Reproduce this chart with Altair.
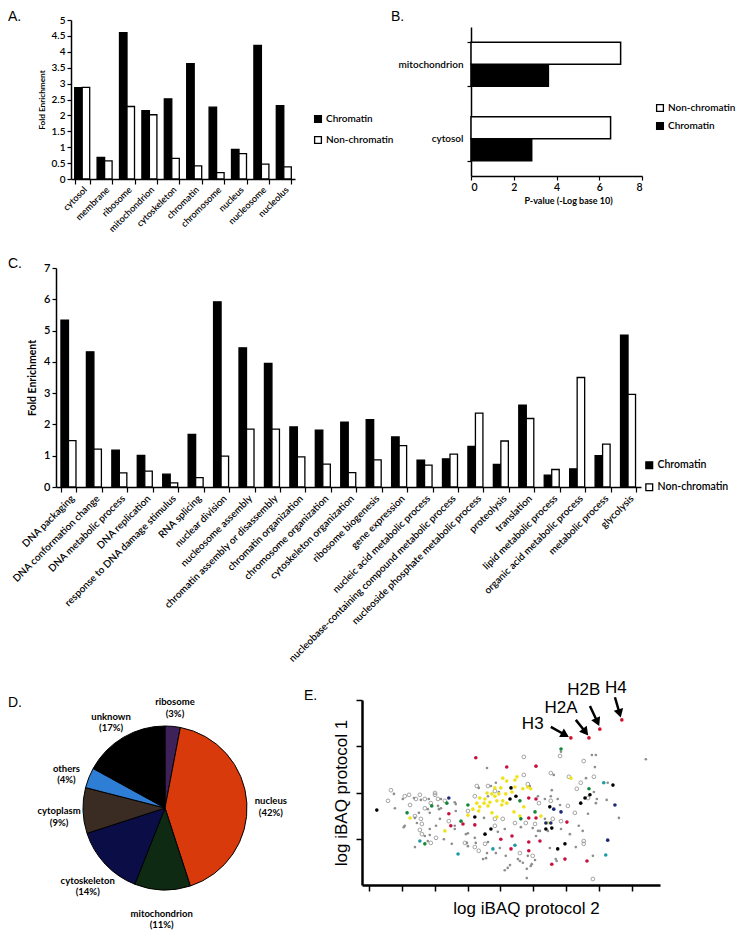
import math
import altair as alt
import pandas as pd

FONT = "Lato"
ARIAL = "Liberation Sans"
SERIES = ["Chromatin", "Non-chromatin"]

# ---------------- Panel A : cellular component fold enrichment ----------------
a_categories = ["cytosol", "membrane", "ribosome", "mitochondrion", "cytoskeleton",
                "chromatin", "chromosome", "nucleus", "nucleosome", "nucleolus"]
a_chromatin = [2.87, 0.68, 4.60, 2.15, 2.52, 3.63, 2.26, 0.93, 4.20, 2.31]
a_non_chromatin = [2.88, 0.57, 2.28, 2.02, 0.65, 0.41, 0.20, 0.80, 0.47, 0.38]
a_y_ticks = [0, 0.5, 1, 1.5, 2, 2.5, 3, 3.5, 4, 4.5, 5]

# ---------------- Panel B : p-values ----------------
b_categories = ["mitochondrion", "cytosol"]
b_chromatin = [3.62, 2.84]
b_non_chromatin = [7.00, 6.53]
b_x_ticks = [0, 2, 4, 6, 8]

# ---------------- Panel C : biological process fold enrichment ----------------
c_categories = ["DNA packaging", "DNA conformation change", "DNA metabolic process",
                "DNA replication", "response to DNA damage stimulus", "RNA splicing",
                "nuclear division", "nucleosome assembly", "chromatin assembly or disassembly",
                "chromatin organization", "chromosome organization", "cytoskeleton organization",
                "ribosome biogenesis", "gene expression", "nucleic acid metabolic process",
                "nucleobase-containing compound metabolic process",
                "nucleoside phosphate metabolic process", "proteolysis", "translation",
                "lipid metabolic process", "organic acid metabolic process",
                "metabolic process", "glycolysis"]
c_chromatin = [5.33, 4.32, 1.18, 1.01, 0.41, 1.68, 5.92, 4.45, 3.95, 1.92, 1.82, 2.07,
               2.15, 1.60, 0.86, 0.90, 1.30, 0.72, 2.62, 0.38, 0.58, 1.00, 4.85]
c_non_chromatin = [1.48, 1.21, 0.45, 0.51, 0.13, 0.30, 0.99, 1.85, 1.85, 0.96, 0.73, 0.46,
                   0.87, 1.32, 0.70, 1.05, 2.36, 1.47, 2.19, 0.56, 3.50, 1.37, 2.96]
c_y_ticks = [0, 1, 2, 3, 4, 5, 6, 7]

# ---------------- Panel D : pie ----------------
d_categories = ["ribosome", "nucleus", "mitochondrion", "cytoskeleton", "cytoplasm",
                "others", "unknown"]
d_percent = [3, 42, 11, 14, 9, 4, 17]

# ---------------- Panel E : scatter ----------------
e_x_ticks = [0, 1, 2, 3, 4, 5, 6, 7, 8]
e_y_ticks = [1, 2, 3, 4]
e_gray_open = [(4.71, 2.77), (5.53, 2.42), (5.81, 2.79), (6.53, 2.68), (6.84, 2.34), (6.08, 2.34),
               (6.32, 2.08), (6.05, 1.71), (6.26, 1.56), (5.84, 1.38), (6.53, 0.95), (6.53, 0.89),
               (6.81, 0.13), (4.59, 0.69), (3.22, 0.82), (3.34, 0.74), (2.04, 1.02), (1.61, 1.10),
               (1.55, 1.19), (1.61, 1.32), (1.58, 1.43), (1.70, 1.86), (1.55, 1.95), (1.43, 1.86),
               (1.22, 1.95), (0.58, 1.82), (1.25, 1.73), (2.10, 1.86), (2.01, 1.95), (2.43, 1.38),
               (2.92, 0.91), (3.83, 1.43), (3.83, 1.28), (3.62, 2.14), (3.22, 1.92), (3.01, 1.60),
               (4.07, 1.43), (4.44, 1.34), (4.77, 1.34), (5.05, 1.32), (5.59, 1.43), (5.17, 1.77),
               (5.53, 1.82), (6.44, 2.21), (6.66, 1.88), (0.67, 2.05), (1.09, 1.92), (2.01, 1.99),
               (1.88, 1.77), (2.31, 1.82), (3.28, 2.14), (3.83, 2.03), (4.71, 2.38), (4.83, 2.18),
               (1.40, 1.49), (1.88, 0.91), (1.70, 1.66), (4.98, 0.63), (3.53, 0.89)]
e_gray_filled = [(3.59, 2.53), (5.62, 2.38), (5.84, 2.88), (6.78, 2.81), (6.90, 2.81), (6.87, 2.55),
                 (6.60, 2.31), (8.42, 2.72), (5.81, 1.73), (5.56, 2.05), (5.35, 1.86), (6.90, 1.77),
                 (6.66, 1.54), (7.23, 1.84), (7.60, 1.45), (6.38, 1.28), (6.50, 1.17), (6.29, 0.82),
                 (6.81, 0.63), (5.71, 0.52), (5.50, 0.80), (5.08, 1.06), (5.20, 1.17), (4.98, 1.23),
                 (4.83, 0.63), (4.95, 0.45), (4.80, 0.35), (4.80, 0.15), (4.68, 0.48), (4.53, 0.56),
                 (4.29, 0.43), (4.13, 0.32), (4.16, 0.63), (3.98, 0.80), (3.62, 0.93), (3.59, 0.69),
                 (3.47, 0.56), (2.98, 0.91), (2.52, 0.89), (2.28, 0.99), (1.85, 1.08), (1.85, 1.21),
                 (1.46, 1.34), (1.09, 1.28), (1.40, 1.45), (1.52, 1.56), (1.79, 1.64), (1.03, 1.86),
                 (0.79, 1.66), (2.10, 1.71), (2.19, 1.66), (2.64, 1.60), (2.16, 1.43), (2.61, 1.28),
                 (3.01, 1.12), (3.22, 1.02), (3.50, 1.45), (3.92, 1.15), (4.13, 1.21), (3.86, 2.21),
                 (3.62, 1.92), (2.64, 1.75), (4.62, 1.25), (5.14, 1.17), (5.35, 1.43), (5.84, 1.21),
                 (6.11, 1.10), (5.14, 1.92), (5.53, 1.92), (5.74, 1.86), (6.84, 2.01), (6.93, 1.86),
                 (7.26, 2.21), (0.76, 1.97), (1.37, 1.88), (1.58, 1.84), (1.82, 1.86), (2.19, 1.86),
                 (2.61, 1.79), (3.34, 2.10), (3.71, 2.14), (3.95, 2.01), (4.89, 2.14), (1.06, 1.25),
                 (1.70, 1.06), (1.40, 0.82), (1.79, 0.95), (2.04, 1.28), (2.13, 1.64), (1.85, 1.56),
                 (2.61, 1.21), (2.95, 1.10), (3.25, 0.91), (3.56, 0.58), (3.86, 0.69), (4.22, 0.37),
                 (4.59, 0.52), (3.01, 0.84), (5.44, 1.17), (5.68, 0.56), (5.05, 0.54), (4.92, 0.41)]
e_red = [(3.25, 2.75), (4.19, 2.55), (5.08, 2.57), (4.86, 1.88), (5.08, 1.86), (2.43, 1.54),
         (2.86, 1.32), (2.49, 1.28), (3.22, 1.30), (4.86, 1.45), (6.02, 1.36), (4.35, 1.06),
         (4.01, 0.99), (4.32, 0.78), (4.86, 0.93), (5.20, 0.95), (4.86, 0.74), (5.96, 0.56),
         (5.56, 0.45), (6.63, 0.52), (5.08, 1.45)]
e_histones = [(6.14, 3.18), (6.69, 3.18), (7.02, 3.37), (7.69, 3.57)]
e_yellow = [(4.07, 2.31), (4.19, 2.25), (4.50, 2.34), (4.44, 2.27), (4.44, 2.12), (3.83, 2.10),
            (4.01, 2.10), (3.59, 1.99), (3.74, 1.97), (3.95, 1.97), (4.16, 1.97), (4.35, 2.01),
            (4.68, 2.08), (4.83, 2.12), (4.92, 2.08), (3.37, 1.88), (3.53, 1.86), (3.68, 1.79),
            (3.89, 1.82), (4.07, 1.82), (4.19, 1.77), (3.28, 1.77), (3.50, 1.77), (3.74, 1.56),
            (3.01, 1.51), (3.16, 1.64), (3.37, 1.69), (4.41, 1.58), (4.59, 1.49), (4.71, 1.69),
            (5.23, 1.49), (2.31, 1.17), (1.25, 1.45), (5.44, 1.34), (6.14, 2.31), (3.83, 1.92),
            (3.62, 1.71), (3.34, 1.60), (3.89, 1.47), (4.04, 1.73)]
e_green = [(5.84, 2.94), (1.16, 1.56), (1.91, 1.71), (2.37, 1.77), (3.01, 1.73), (2.80, 1.38),
           (4.59, 1.82), (4.62, 1.43), (5.05, 1.58), (6.69, 2.08), (1.70, 0.89)]
e_teal = [(1.55, 0.95), (2.71, 0.67), (3.77, 0.78), (4.44, 0.86), (7.20, 0.65), (7.14, 2.21)]
e_navy = [(2.43, 1.88), (5.62, 1.64), (5.84, 1.58), (5.38, 1.34), (5.53, 1.34), (7.26, 0.97),
          (7.48, 1.73)]
e_black = [(0.24, 1.62), (4.32, 2.10), (4.47, 1.92), (4.29, 1.86), (3.22, 1.47), (3.53, 1.10),
           (3.71, 1.21), (5.50, 1.69), (6.44, 1.77), (6.57, 1.88), (6.72, 1.95), (7.42, 2.16),
           (5.38, 1.21), (5.56, 1.23), (5.74, 0.78), (5.96, 0.89)]
e_labels = ["H3", "H2A", "H2B", "H4"]
e_label_pos = [(4.98, 3.48), (5.84, 3.83), (6.53, 4.22), (7.51, 4.26)]
e_arrow_start = [(5.53, 3.42), (6.29, 3.57), (6.72, 3.87), (7.48, 4.06)]
e_arrow_end = [(5.93, 3.26), (6.56, 3.33), (6.93, 3.55), (7.61, 3.74)]

# ---------------- styles ----------------
PIE_COLORS = ["#3d2159", "#d83a0c", "#0e2a12", "#0b0d46", "#3a2c22", "#2f7ed6", "#000000"]
E_GROUPS = ["histone", "red", "yellow", "green", "teal", "navy", "black"]
E_COLORS = ["#d0112b", "#c8103e", "#efe21a", "#14883a", "#1c9aa6", "#1a2a78", "#000000"]
GRAY = "#8e8e8e"

E_XDOM = [-0.21, 8.85]
E_YDOM = [0, 4]
E_W, E_H = 298, 185


def bar_frame(cats, chrom, nonchrom):
    return pd.DataFrame({
        "category": list(cats) * 2,
        "series": [SERIES[0]] * len(cats) + [SERIES[1]] * len(cats),
        "value": list(chrom) + list(nonchrom),
    })


def letter(text, dx, dy):
    return alt.TitleParams(text, anchor="start", frame="group", dx=dx, dy=dy, offset=0,
                           font=ARIAL, fontSize=14, fontWeight="normal", color="black",
                           baseline="bottom")


def legend(x, y, row_pad, size=10.5):
    return alt.Legend(title=None, orient="none", legendX=x, legendY=y, symbolType="square",
                      symbolSize=46, symbolStrokeColor="black", symbolStrokeWidth=1.3,
                      labelFont=FONT, labelFontSize=size, labelFontWeight=600,
                      labelColor="black", labelOffset=3, rowPadding=row_pad)


fill_scale = alt.Scale(domain=SERIES, range=["#000000", "#ffffff"])

# ---------------- Panel A ----------------
panel_a = alt.Chart(bar_frame(a_categories, a_chromatin, a_non_chromatin)).mark_bar(
    stroke="black", strokeWidth=1.3
).encode(
    x=alt.X("category:N", sort=a_categories, title=None,
            scale=alt.Scale(paddingInner=0.33, paddingOuter=0.165),
            axis=alt.Axis(labelAngle=-45, tickBand="extent", tickSize=5, labelFontSize=9.2,
                          labelPadding=1)),
    xOffset=alt.XOffset("series:N", sort=SERIES, scale=alt.Scale(paddingInner=0, paddingOuter=0)),
    y=alt.Y("value:Q", title="Fold Enrichment", scale=alt.Scale(domain=[0, 5], nice=False),
            axis=alt.Axis(values=a_y_ticks, format="~g", tickSize=4, titlePadding=5,
                          labelFontSize=10, titleFontSize=8.2)),
    fill=alt.Fill("series:N", scale=fill_scale, legend=legend(242, 94, 9, 10)),
).properties(width=224, height=159, title=letter("A.", -63, 23))

# ---------------- Panel B ----------------
panel_b = alt.Chart(bar_frame(b_categories, b_chromatin, b_non_chromatin)).mark_bar(
    stroke="black", strokeWidth=1.5
).encode(
    y=alt.Y("category:N", sort=b_categories, title=None,
            scale=alt.Scale(paddingInner=0.41, paddingOuter=0.205),
            axis=alt.Axis(tickBand="extent", tickSize=4, labelPadding=4, labelFontSize=10)),
    yOffset=alt.YOffset("series:N", sort=["Non-chromatin", "Chromatin"],
                        scale=alt.Scale(paddingInner=0, paddingOuter=0)),
    x=alt.X("value:Q", title="P-value (-Log base 10)", scale=alt.Scale(domain=[0, 8], nice=False),
            axis=alt.Axis(values=b_x_ticks, tickSize=4, titleX=97, titlePadding=4,
                          labelFontSize=10.5, titleFontSize=9)),
    fill=alt.Fill("series:N",
                  scale=alt.Scale(domain=["Non-chromatin", "Chromatin"], range=["#ffffff", "#000000"]),
                  legend=legend(184, 76, 6, 10)),
).properties(width=171, height=149, title=letter("B.", -80, 16))

# ---------------- Panel C ----------------
panel_c = alt.Chart(bar_frame(c_categories, c_chromatin, c_non_chromatin)).mark_bar(
    stroke="black", strokeWidth=1.3
).encode(
    x=alt.X("category:N", sort=c_categories, title=None,
            scale=alt.Scale(paddingInner=0.39, paddingOuter=0.195),
            axis=alt.Axis(labelAngle=-45, tickBand="extent", tickSize=5, labelFontSize=10,
                          labelLimit=330, labelPadding=1)),
    xOffset=alt.XOffset("series:N", sort=SERIES, scale=alt.Scale(paddingInner=0, paddingOuter=0)),
    y=alt.Y("value:Q", title="Fold Enrichment", scale=alt.Scale(domain=[0, 7], nice=False),
            axis=alt.Axis(values=c_y_ticks, tickSize=4, titlePadding=6, labelFontSize=11)),
    fill=alt.Fill("series:N", scale=fill_scale, legend=legend(588, 192, 9)),
).properties(width=585, height=219, title=letter("C.", -48, 23))

# ---------------- Panel D ----------------
d_df = pd.DataFrame({
    "category": d_categories,
    "percent": d_percent,
    "order": list(range(len(d_categories))),
    "label": [f"{c}\n({p}%)" for c, p in zip(d_categories, d_percent)],
})
d_base = alt.Chart(d_df).encode(
    theta=alt.Theta("percent:Q", stack=True),
    order=alt.Order("order:Q"),
)
d_pie = d_base.mark_arc(stroke="black", strokeWidth=1).encode(
    color=alt.Color("category:N", scale=alt.Scale(domain=d_categories, range=PIE_COLORS),
                    legend=None)
)
d_text = d_base.mark_text(radius=106, lineBreak="\n", font=FONT, fontSize=9.5,
                          fontWeight="bold", color="black").encode(text="label:N")
panel_d = alt.layer(d_pie, d_text).properties(width=164, height=164,
                                               title=letter("D.", -75, 27))

# ---------------- Panel E ----------------
def pts(pairs, group=None):
    df = pd.DataFrame(pairs, columns=["x", "y"])
    if group is not None:
        df["group"] = group
    return df


colored = pd.concat([
    pts(e_red, "red"), pts(e_yellow, "yellow"), pts(e_green, "green"), pts(e_teal, "teal"),
    pts(e_navy, "navy"), pts(e_black, "black"), pts(e_histones, "histone"),
], ignore_index=True)

sx = E_W / (E_XDOM[1] - E_XDOM[0])
sy = E_H / (E_YDOM[1] - E_YDOM[0])
arrows = pd.DataFrame({
    "x": [s[0] for s in e_arrow_start], "y": [s[1] for s in e_arrow_start],
    "x_end": [e[0] for e in e_arrow_end], "y_end": [e[1] for e in e_arrow_end],
})
arrows["angle"] = [math.degrees(math.atan2((xe - xs) * sx, (ye - ys) * sy)) % 360
                   for xs, ys, xe, ye in zip(arrows.x, arrows.y, arrows.x_end, arrows.y_end)]
labels_df = pd.DataFrame({"x": [p[0] for p in e_label_pos], "y": [p[1] for p in e_label_pos],
                          "text": e_labels})

e_xscale = alt.Scale(domain=E_XDOM, nice=False, zero=False)
e_yscale = alt.Scale(domain=E_YDOM, nice=False, zero=False)
e_x_axis = alt.Axis(values=e_x_ticks, labels=False, tickSize=6, tickWidth=1.5, domainWidth=2.5,
                    title="log iBAQ protocol 2", titleFont=ARIAL, titleFontSize=17,
                    titleFontWeight="normal", titlePadding=9, titleX=164)
e_y_axis = alt.Axis(values=e_y_ticks, labels=False, tickSize=6, tickWidth=1.5, domainWidth=2.5,
                    title="log iBAQ protocol 1", titleFont=ARIAL, titleFontSize=17,
                    titleFontWeight="normal", titlePadding=5)
EX = alt.X("x:Q", scale=e_xscale, axis=e_x_axis)
EY = alt.Y("y:Q", scale=e_yscale, axis=e_y_axis)

e_open = alt.Chart(pts(e_gray_open)).mark_point(
    shape="circle", filled=False, size=14, strokeWidth=0.8, color=GRAY, opacity=1
).encode(x=EX, y=EY)
e_fill = alt.Chart(pts(e_gray_filled)).mark_circle(size=7, color=GRAY, opacity=1).encode(x=EX, y=EY)
e_col = alt.Chart(colored).mark_circle(size=13, opacity=1).encode(
    x=EX, y=EY,
    color=alt.Color("group:N", scale=alt.Scale(domain=E_GROUPS, range=E_COLORS), legend=None),
)
e_rules = alt.Chart(arrows).mark_rule(strokeWidth=2.5, color="black").encode(
    x=EX, y=EY, x2="x_end:Q", y2="y_end:Q")
e_heads = alt.Chart(arrows).mark_point(shape="triangle", filled=True, size=95, color="black",
                                       opacity=1).encode(
    x=alt.X("x_end:Q", scale=e_xscale, axis=e_x_axis),
    y=alt.Y("y_end:Q", scale=e_yscale, axis=e_y_axis),
    angle=alt.Angle("angle:Q", scale=None),
)
e_text = alt.Chart(labels_df).mark_text(font=ARIAL, fontSize=17, color="black").encode(
    x=EX, y=EY, text="text:N")
panel_e = alt.layer(e_open, e_fill, e_col, e_rules, e_heads, e_text).properties(
    width=E_W, height=E_H, title=letter("E.", -58, 38))

# ---------------- layout ----------------
spacer_df = pd.DataFrame({"s": [0]})


def spacer(w, h):
    return alt.Chart(spacer_df).mark_point(opacity=0, size=0).encode(
        x=alt.value(0), y=alt.value(0)).properties(width=w, height=h)


def indep(c):
    return c.resolve_scale(fill="independent", color="independent").resolve_legend(
        fill="independent", color="independent")


row1 = indep(alt.hconcat(
    spacer(63, 237), panel_a, spacer(176, 1),
    indep(alt.vconcat(spacer(1, 7), panel_b, spacing=0, bounds="flush")),
    spacing=0, bounds="flush"))
row2 = indep(alt.hconcat(spacer(48, 410), panel_c, spacing=0, bounds="flush"))
row3 = indep(alt.hconcat(
    spacer(75, 1),
    indep(alt.vconcat(spacer(1, 26), panel_d, spacing=0, bounds="flush")),
    spacer(279, 1), panel_e,
    spacing=0, bounds="flush"))

chart = indep(alt.vconcat(row1, row2, row3, spacing=0,
                          padding={"top": 2, "left": 0, "right": 0, "bottom": 0})).configure_view(
    stroke=None
).configure_axis(
    grid=False, domainColor="black", tickColor="black", labelColor="black", titleColor="black",
    labelFont=FONT, titleFont=FONT, labelFontWeight=600, titleFontWeight="bold",
    titleFontSize=10.5, domainWidth=1.5, tickWidth=1.2,
)

chart.save("out.html", embed_options={"renderer": "svg", "actions": False})
